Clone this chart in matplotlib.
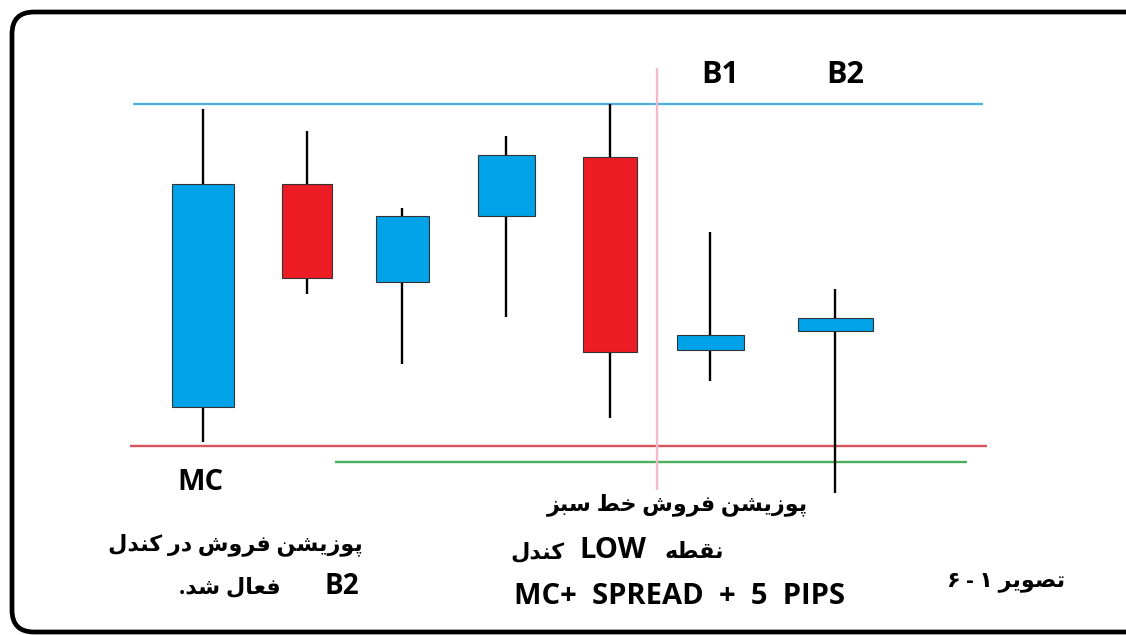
"""
Diagrama de velas: posicion de venta en la vela B2 (tamano en pixeles de la imagen).
"""
import matplotlib
matplotlib.use("Agg")
import matplotlib.pyplot as plt
from matplotlib.patches import FancyBboxPatch

plt.rcParams['font.family'] = ['Open Sans', 'DejaVu Sans']

# --- datos de las velas (eje y en pixeles, hacia abajo) ---
centros = [203, 307, 402, 506, 610, 710, 835]
anchos = [62, 50, 53, 57, 54, 67, 75]
maximos = [109, 131, 208, 136, 104, 232, 289]
minimos = [442, 294, 364, 317, 418, 381, 493]
cuerpo_arriba = [184, 184, 216, 155, 157, 335, 318]
cuerpo_abajo = [407, 278, 282, 216, 352, 350, 331]
alcista = [True, False, True, True, False, True, True]

# lineas horizontales: (y, x inicio, x fin)
linea_azul = (104, 133, 983)
linea_roja = (446, 130, 987)
linea_verde = (462, 335, 967)
linea_rosa = (657, 68, 490)

AZUL = '#00a2e8'
ROJO = '#ed1c24'

# formas de presentacion arabe: aislada, final, inicial, media
FORMAS = {
    'ا': '\uFE8D\uFE8E', 'ب': '\uFE8F\uFE90\uFE91\uFE92', 'پ': '\uFB56\uFB57\uFB58\uFB59',
    'ت': '\uFE95\uFE96\uFE97\uFE98', 'خ': '\uFEA5\uFEA6\uFEA7\uFEA8', 'د': '\uFEA9\uFEAA',
    'ر': '\uFEAD\uFEAE', 'ز': '\uFEAF\uFEB0', 'س': '\uFEB1\uFEB2\uFEB3\uFEB4',
    'ش': '\uFEB5\uFEB6\uFEB7\uFEB8', 'ص': '\uFEB9\uFEBA\uFEBB\uFEBC', 'ط': '\uFEC1\uFEC2\uFEC3\uFEC4',
    'ع': '\uFEC9\uFECA\uFECB\uFECC', 'ف': '\uFED1\uFED2\uFED3\uFED4', 'ق': '\uFED5\uFED6\uFED7\uFED8',
    'ک': '\uFB8E\uFB8F\uFB90\uFB91', 'ل': '\uFEDD\uFEDE\uFEDF\uFEE0', 'ن': '\uFEE5\uFEE6\uFEE7\uFEE8',
    'ه': '\uFEE9\uFEEA\uFEEB\uFEEC', 'و': '\uFEED\uFEEE', 'ی': '\uFBFC\uFBFD\uFBFE\uFBFF',
}


def farsi(texto):
    """Une las letras y devuelve el texto en orden visual (derecha a izquierda)."""
    salida = []
    for i, ch in enumerate(texto):
        formas = FORMAS.get(ch)
        if formas is None:
            salida.append(ch)
            continue
        ant = texto[i - 1] if i > 0 else ''
        sig = texto[i + 1] if i + 1 < len(texto) else ''
        une_ant = ant in FORMAS and len(FORMAS[ant]) == 4
        une_sig = sig in FORMAS and len(formas) == 4
        if une_ant and une_sig:
            salida.append(formas[3])
        elif une_ant:
            salida.append(formas[1])
        elif une_sig:
            salida.append(formas[2])
        else:
            salida.append(formas[0])
    return ''.join(reversed(salida))


fig = plt.figure(figsize=(11.26, 6.35), dpi=100)
ax = fig.add_axes([0, 0, 1, 1])
ax.set_xlim(0, 1126)
ax.set_ylim(635, 0)
ax.axis('off')

# marco redondeado
marco = FancyBboxPatch((12, 12), 1160, 620, boxstyle="round,pad=0,rounding_size=22",
                       fill=False, edgecolor='black', linewidth=3.4, zorder=1)
ax.add_patch(marco)

# lineas de referencia
ax.hlines(linea_azul[0], linea_azul[1], linea_azul[2], color='#4fb3d9', linewidth=1.7, zorder=2)
ax.hlines(linea_roja[0], linea_roja[1], linea_roja[2], color='#d9535c', linewidth=1.7, zorder=2)
ax.hlines(linea_verde[0], linea_verde[1], linea_verde[2], color='#4cae5a', linewidth=1.7, zorder=2)
ax.vlines(linea_rosa[0], linea_rosa[1], linea_rosa[2], color='#f2b8cc', linewidth=1.7, zorder=2)

# velas
ax.vlines(centros, maximos, minimos, color='black', linewidth=1.7, zorder=3)
alturas = [b - a for a, b in zip(cuerpo_arriba, cuerpo_abajo)]
colores = [AZUL if a else ROJO for a in alcista]
ax.bar(centros, alturas, bottom=cuerpo_arriba, width=anchos, color=colores,
       edgecolor='#333333', linewidth=0.8, zorder=4)

# textos
negrita = dict(fontweight='bold', ha='center', va='center', color='black', zorder=5)
ax.text(720, 75, 'B1', fontsize=22, **negrita)
ax.text(845, 75, 'B2', fontsize=22, **negrita)
ax.text(200, 482, 'MC', fontsize=21, **negrita)
ax.text(235, 545, farsi('پوزیشن فروش در کندل'), fontsize=16, **negrita)
ax.text(230, 588, farsi('فعال شد.'), fontsize=16, **negrita)
ax.text(342, 586, 'B2', fontsize=20, **negrita)
ax.text(677, 505, farsi('پوزیشن فروش خط سبز'), fontsize=16, **negrita)
ax.text(537, 553, farsi('کندل'), fontsize=16, **negrita)
ax.text(613, 551, 'LOW', fontsize=21, **negrita)
ax.text(694, 553, farsi('نقطه'), fontsize=16, **negrita)
ax.text(680, 597, 'MC+  SPREAD  +  5  PIPS', fontsize=21, **negrita)
ax.text(1006, 582, farsi('تصویر ۱ - ۶'), fontsize=16, **negrita)

fig.savefig('out.png', dpi=100)
